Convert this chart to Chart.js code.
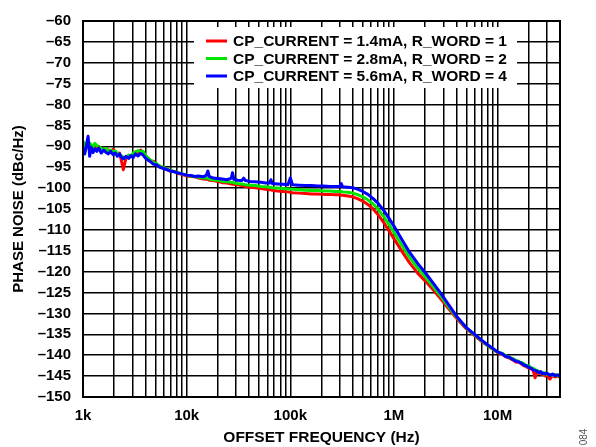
<!DOCTYPE html>
<html>
<head>
<meta charset="utf-8">
<script src="https://cdn.jsdelivr.net/npm/chart.js@4/dist/chart.umd.min.js"></script>
<style>
  html, body { margin: 0; padding: 0; background: #fff; }
  #wrap { width: 596px; height: 447px; position: relative; }
</style>
</head>
<body>
<div id="wrap"><canvas id="PhaseChart" width="596" height="447"></canvas></div>
<script>
// offset frequencies (Hz), shared by all three traces
const freqs = [
  1000, 1040, 1080, 1120, 1160, 1200, 1250, 1300, 1360, 1420, 1500, 1580, 1660, 1750, 1850, 1950, 2050, 2150, 2250, 2350, 2450,
  2600, 2750, 2900, 3050, 3200, 3400, 3600, 3800, 4000, 4250, 4500, 4800, 5100, 5500, 6000, 6500, 7000, 7600, 8300, 9000, 10000,
  11000, 12000, 13000, 14500, 15500, 16000, 16500, 18000, 20000, 22000, 24500, 27000, 27700, 28500, 31000, 34000, 35500, 37000,
  41000, 46000, 52000, 58000, 63000, 65000, 67000, 75000, 85000, 95000, 100000, 105000,
  120000, 140000, 160000, 185000, 210000, 240000, 270000, 300000, 310000, 320000, 360000, 400000, 450000, 500000, 560000,
  630000, 700000, 800000, 900000, 1e6,
  1.2e6, 1.4e6, 1.7e6, 2e6, 2.4e6, 2.8e6, 3.3e6, 4e6, 5e6, 6e6, 7e6, 8e6, 9e6, 1e7,
  1.1e7, 1.2e7, 1.3e7, 1.4e7, 1.5e7, 1.6e7, 1.7e7, 1.8e7, 1.9e7, 2e7, 2.1e7, 2.2e7, 2.3e7, 2.4e7, 2.5e7, 2.6e7, 2.7e7,
  2.8e7, 2.9e7, 3e7, 3.2e7, 3.4e7, 3.6e7, 3.8e7, 4e7
];

// CP_CURRENT = 1.4mA, R_WORD = 1
const noiseRed = [
  -89.0, -89.5, -90.3, -89.2, -90.8, -89.9, -90.2, -89.5, -90.6, -90.0, -90.9, -90.4, -91.0, -90.8, -91.5, -90.7, -91.3, -92.0, -91.6, -93.5, -95.6,
  -92.8, -92.3, -92.5, -91.8, -91.3, -91.7, -90.9, -91.6, -92.2, -92.9, -93.6, -93.6, -94.5, -94.7, -95.3, -95.5, -96.0, -96.0, -96.5, -96.7, -97.1,
  -97.2, -97.3, -97.6, -97.8, -97.9, -97.9, -98.1, -98.2, -98.4, -98.7, -98.8, -99.0, -99.1, -99.1, -99.2, -99.4, -99.5, -99.6,
  -99.8, -99.9, -100.1, -100.3, -100.4, -100.4, -100.5, -100.7, -100.8, -100.9, -101.0, -101.1,
  -101.2, -101.3, -101.4, -101.4, -101.5, -101.5, -101.6, -101.6, -101.7, -101.7, -101.9, -102.1, -102.6, -103.1, -103.9,
  -105.0, -106.3, -108.3, -110.3, -112.1,
  -115.2, -117.7, -120.4, -122.2, -124.4, -126.4, -128.6, -131.1, -133.7, -135.3, -136.7, -137.7, -138.6, -139.4,
  -139.7, -140.4, -140.7, -141.1, -141.6, -141.7, -142.1, -142.5, -142.8, -143.1, -143.2, -143.6, -145.4, -143.9, -144.3, -144.4, -144.6,
  -144.5, -145.0, -144.7, -145.7, -144.8, -145.2, -145.0, -145.3
];

// CP_CURRENT = 2.8mA, R_WORD = 2
const noiseGreen = [
  -88.8, -89.8, -89.4, -90.0, -89.2, -89.6, -90.3, -89.3, -89.8, -90.2, -90.4, -90.8, -90.5, -91.2, -90.9, -91.4, -91.1, -91.7, -91.9, -92.3, -92.6,
  -92.7, -92.1, -92.4, -91.6, -91.4, -91.0, -91.3, -91.2, -92.2, -92.8, -93.3, -93.9, -94.1, -94.8, -95.0, -95.6, -95.7, -96.1, -96.3, -96.6, -96.9,
  -97.1, -97.2, -97.4, -97.6, -97.6, -97.6, -97.8, -98.0, -98.1, -98.4, -98.5, -98.6, -98.6, -98.7, -98.9, -99.0, -99.1, -99.2,
  -99.3, -99.4, -99.6, -99.7, -99.8, -99.8, -99.9, -100.0, -100.1, -100.2, -100.2, -100.3,
  -100.4, -100.5, -100.6, -100.6, -100.7, -100.7, -100.8, -100.8, -100.8, -100.9, -101.0, -101.2, -101.6, -102.1, -102.8,
  -103.8, -105.0, -106.9, -108.8, -110.6,
  -113.8, -116.4, -119.2, -121.2, -123.6, -125.7, -128.1, -130.8, -133.5, -135.1, -136.5, -137.6, -138.5, -139.3,
  -139.5, -140.1, -140.6, -140.8, -141.2, -141.5, -141.8, -142.0, -142.6, -142.5, -143.0, -143.1, -143.5, -143.6, -143.9, -144.2, -144.1,
  -144.5, -144.2, -144.6, -144.6, -144.8, -144.6, -145.0, -144.9
];

// CP_CURRENT = 5.6mA, R_WORD = 4
const noiseBlue = [
  -90.5, -91.8, -89.6, -87.6, -92.4, -90.2, -91.5, -90.6, -91.2, -90.4, -91.6, -90.9, -91.4, -91.8, -91.2, -92.0, -91.6, -92.4, -91.8, -92.6, -93.0,
  -92.4, -92.9, -92.2, -92.7, -91.8, -92.3, -91.7, -92.1, -92.8, -93.3, -93.7, -94.3, -94.4, -95.0, -95.3, -95.6, -95.9, -96.1, -96.4, -96.6, -96.9,
  -97.0, -97.2, -97.1, -97.3, -96.9, -95.9, -97.2, -97.6, -97.7, -97.8, -98.0, -97.6, -96.3, -97.9, -98.1, -98.2, -97.6, -98.2,
  -98.4, -98.5, -98.6, -98.8, -98.8, -98.0, -98.9, -99.0, -99.1, -99.2, -97.6, -99.2,
  -99.3, -99.4, -99.4, -99.5, -99.5, -99.6, -99.6, -99.6, -98.9, -99.7, -99.8, -99.9, -100.3, -100.8, -101.5,
  -102.5, -103.6, -105.4, -107.3, -109.1,
  -112.4, -115.2, -118.1, -120.2, -122.8, -125.0, -127.6, -130.6, -133.4, -135.0, -136.4, -137.5, -138.4, -139.2,
  -139.6, -140.3, -140.5, -141.0, -141.4, -141.6, -141.9, -142.4, -142.5, -142.9, -143.1, -143.5, -143.6, -143.8, -144.2, -143.9, -144.4,
  -144.3, -144.5, -144.3, -144.8, -144.5, -144.9, -144.7, -145.0
];

const seriesNames = [
  'CP_CURRENT = 1.4mA, R_WORD = 1',
  'CP_CURRENT = 2.8mA, R_WORD = 2',
  'CP_CURRENT = 5.6mA, R_WORD = 4'
];
const seriesColors = ['#ff0000', '#00e600', '#0000ff'];

// x tick labels at the decades
const decadeLabels = { 1000: '1k', 10000: '10k', 100000: '100k', 1000000: '1M', 10000000: '10M' };

const FONT = "'Liberation Sans', Arial, Helvetica, sans-serif";

function toPoints(vals) {
  return freqs.map((f, i) => ({ x: f, y: vals[i] }));
}

// white legend box inside the plot + outer frame
const boxLegend = {
  id: 'boxLegend',
  afterDraw(chart) {
    const ctx = chart.ctx;
    const a = chart.chartArea;
    ctx.save();
    ctx.fillStyle = '#fff';
    ctx.fillRect(194, 27, 323, 61);
    ctx.font = 'bold 15.5px ' + FONT;
    ctx.textBaseline = 'middle';
    ctx.textAlign = 'left';
    const rows = [41, 58.5, 76];
    seriesNames.forEach((name, i) => {
      ctx.strokeStyle = seriesColors[i];
      ctx.lineWidth = 3;
      ctx.beginPath();
      ctx.moveTo(206, rows[i]);
      ctx.lineTo(227, rows[i]);
      ctx.stroke();
      ctx.fillStyle = '#000';
      ctx.fillText(name, 233, rows[i] + 1);
    });
    // frame
    ctx.strokeStyle = '#000';
    ctx.lineWidth = 2;
    ctx.strokeRect(a.left, a.top, a.right - a.left, a.bottom - a.top);
    // figure number
    ctx.translate(584, 437);
    ctx.rotate(-Math.PI / 2);
    ctx.font = '10px ' + FONT;
    ctx.fillStyle = '#555';
    ctx.textAlign = 'center';
    ctx.fillText('084', 0, 0);
    ctx.restore();
  }
};

const ctx = document.getElementById('PhaseChart').getContext('2d');
const chart = new Chart(ctx, {
  type: 'line',
  data: {
    datasets: [
      { label: seriesNames[0], data: toPoints(noiseRed), borderColor: seriesColors[0], order: 3 },
      { label: seriesNames[1], data: toPoints(noiseGreen), borderColor: seriesColors[1], order: 2 },
      { label: seriesNames[2], data: toPoints(noiseBlue), borderColor: seriesColors[2], order: 1 }
    ]
  },
  options: {
    responsive: false,
    animation: false,
    elements: {
      line: { borderWidth: 3, tension: 0, borderJoinStyle: 'round' },
      point: { radius: 0 }
    },
    layout: { padding: { top: 15, right: 36, left: 0, bottom: 0 } },
    plugins: {
      legend: { display: false },
      tooltip: { enabled: false }
    },
    scales: {
      x: {
        type: 'logarithmic',
        min: 1000,
        max: 4e7,
        afterBuildTicks(scale) {
          const ticks = [];
          for (let e = 3; e <= 7; e++) {
            for (let m = 1; m <= 9; m++) {
              const v = m * Math.pow(10, e);
              if (v <= 4e7) ticks.push({ value: v });
            }
          }
          scale.ticks = ticks;
        },
        afterFit(scale) { scale.height = 50; },
        grid: { color: '#000', lineWidth: 1.5, drawTicks: false },
        border: { color: '#000', width: 2 },
        ticks: {
          autoSkip: false,
          maxRotation: 0,
          padding: 10,
          color: '#000',
          font: { family: FONT, size: 15, weight: 'bold' },
          callback: v => decadeLabels[v] || ''
        },
        title: {
          display: true,
          text: 'OFFSET FREQUENCY (Hz)',
          color: '#000',
          padding: { top: 0, bottom: 0 },
          font: { family: FONT, size: 15.5, weight: 'bold' }
        }
      },
      y: {
        min: -150,
        max: -60,
        afterFit(scale) { scale.width = 83; },
        grid: { color: '#000', lineWidth: 1.5, drawTicks: false },
        border: { color: '#000', width: 2 },
        ticks: {
          stepSize: 5,
          autoSkip: false,
          padding: 12,
          color: '#000',
          font: { family: FONT, size: 15, weight: 'bold' },
          callback: v => '\u2013' + Math.abs(v)
        },
        title: {
          display: true,
          text: 'PHASE NOISE (dBc/Hz)',
          color: '#000',
          padding: { top: 10, bottom: 0 },
          font: { family: FONT, size: 15, weight: 'bold' }
        }
      }
    }
  },
  plugins: [boxLegend]
});
</script>
</body>
</html>
